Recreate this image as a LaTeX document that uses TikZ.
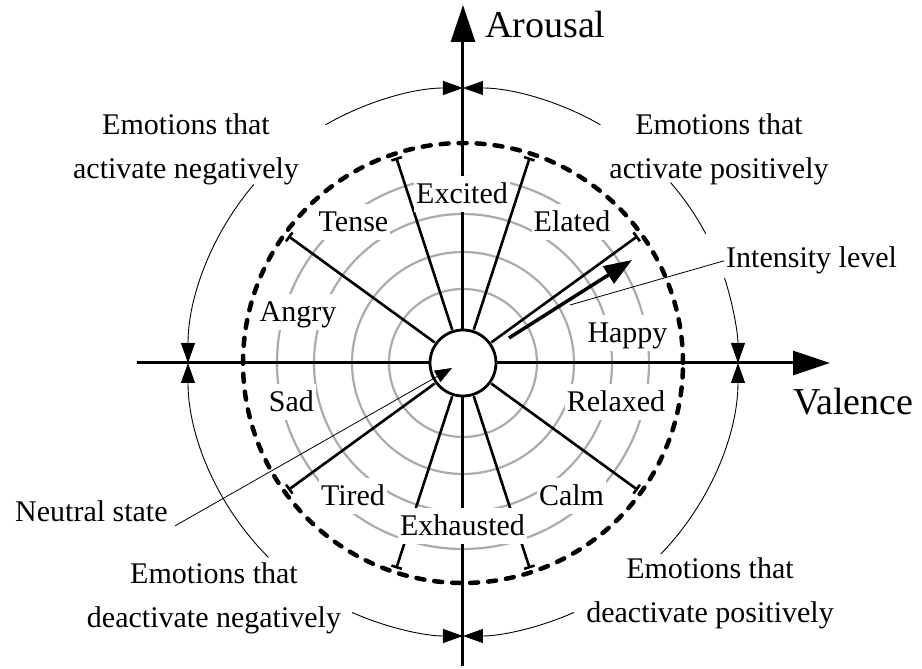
\documentclass[tikz,border=0pt]{standalone}
\usepackage{fontspec}
\setmainfont{Liberation Serif}
\usetikzlibrary{arrows.meta}
\begin{document}
\begin{tikzpicture}[x=1pt,y=1pt,
  lbl/.style={font=\fontsize{30}{36}\selectfont, fill=white, inner sep=2pt, text height=26pt, text depth=6pt, anchor=base},
  grp/.style={font=\fontsize{30}{44}\selectfont, align=center},
  big/.style={font=\fontsize{38}{44}\selectfont, anchor=base west, inner sep=0pt},
  graycirc/.style={draw=black!33, line width=2.2pt},
  spoke/.style={line width=2.6pt, -{Bar[width=11pt]}},
  axis/.style={line width=3pt, -{Triangle[length=37pt,width=24pt]}},
  outarc/.style={line width=0.9pt, -{Triangle[length=20pt,width=14pt]}},
  leader/.style={line width=0.8pt}
]
\useasboundingbox (-463,-306) rectangle (459,363);
\coordinate (O) at (0,0);
% gray intensity circles
\foreach \r in {74,111,149,186} \draw[graycirc] (O) circle[radius=\r];
% dashed outer circle
\draw[line width=4.5pt, dash pattern=on 8pt off 10pt, line cap=round] (O) circle[radius=220];
% spokes
\foreach \a in {36,72,108,144,216,252,288,324} \draw[spoke] (\a:35) -- (\a:216);
% axes
\coordinate (xl) at (-326,0); \coordinate (xr) at (367,0);
\coordinate (yb) at (0,-303); \coordinate (yt) at (0,358);
\draw[axis] (xl) -- (xr);
\draw[axis] (yb) -- (yt);
% center circle
\node[circle, draw, fill=white, line width=2.8pt, minimum size=66pt, inner sep=0pt] (c) at (O) {};
% emotion labels
\node[lbl] (excited) at (-1,159) {Excited};
\node[lbl] (tense) at (-109.5,131) {Tense};
\node[lbl] (elated) at (109,131) {Elated};
\node[lbl] (angry) at (-165,41) {Angry};
\node[lbl] (happy) at (164.5,20) {Happy};
\node[lbl] (sad) at (-171.5,-49) {Sad};
\node[lbl] (relaxed) at (153,-49) {Relaxed};
\node[lbl] (tired) at (-110,-143) {Tired};
\node[lbl] (calm) at (108.5,-143) {Calm};
\node[lbl] (exh) at (-0.5,-173) {Exhausted};
% axis titles
\node[big] (arousal) at (22,325) {Arousal};
\node[big] (valence) at (330,-52) {Valence};
% group labels
\node[grp] (tl) at (-277,214) {Emotions that\\activate negatively};
\node[grp] (tr) at (256,214) {Emotions that\\activate positively};
\node[grp] (bl) at (-249,-235) {Emotions that\\deactivate negatively};
\node[grp] (br) at (247,-230) {Emotions that\\deactivate positively};
% outer arcs with arrows
\draw[outarc] (120:275) arc[start angle=120, end angle=90, radius=275];
\draw[outarc] (60:275) arc[start angle=60, end angle=90, radius=275];
\draw[line width=0.9pt] (41:275) arc[start angle=41, end angle=28, radius=275];
\draw[outarc] (18:275) arc[start angle=18, end angle=0, radius=275];
\draw[outarc] (-44:275) arc[start angle=-44, end angle=0, radius=275];
\draw[outarc] (139.5:275) arc[start angle=139.5, end angle=180, radius=275];
\draw[outarc] (225:275) arc[start angle=225, end angle=180, radius=275];
\draw[outarc] (246:273) arc[start angle=246, end angle=270, radius=273];
\draw[outarc] (294:273) arc[start angle=294, end angle=270, radius=273];
% intensity level
\node[font=\fontsize{30}{36}\selectfont, anchor=base west, inner sep=2pt] (intens) at (261,95) {Intensity level};
\coordinate (iarrS) at (46,25);
\coordinate (iarrE) at (169,103);
\draw[line width=3.5pt, -{Triangle[length=28pt,width=20pt]}] (iarrS) -- (iarrE);
\coordinate (ileadS) at (107,58);
\draw[leader] (ileadS) -- (intens.west);
% neutral state
\node[font=\fontsize{30}{36}\selectfont, anchor=base west, inner sep=2pt] (neutral) at (-450,-159) {Neutral state};
\coordinate (ntip) at (-11,-5);
\draw[leader, -{Triangle[length=17pt,width=13pt]}] ([shift={(5,-4)}]neutral.base east) -- (ntip);
\end{tikzpicture}
\end{document}
